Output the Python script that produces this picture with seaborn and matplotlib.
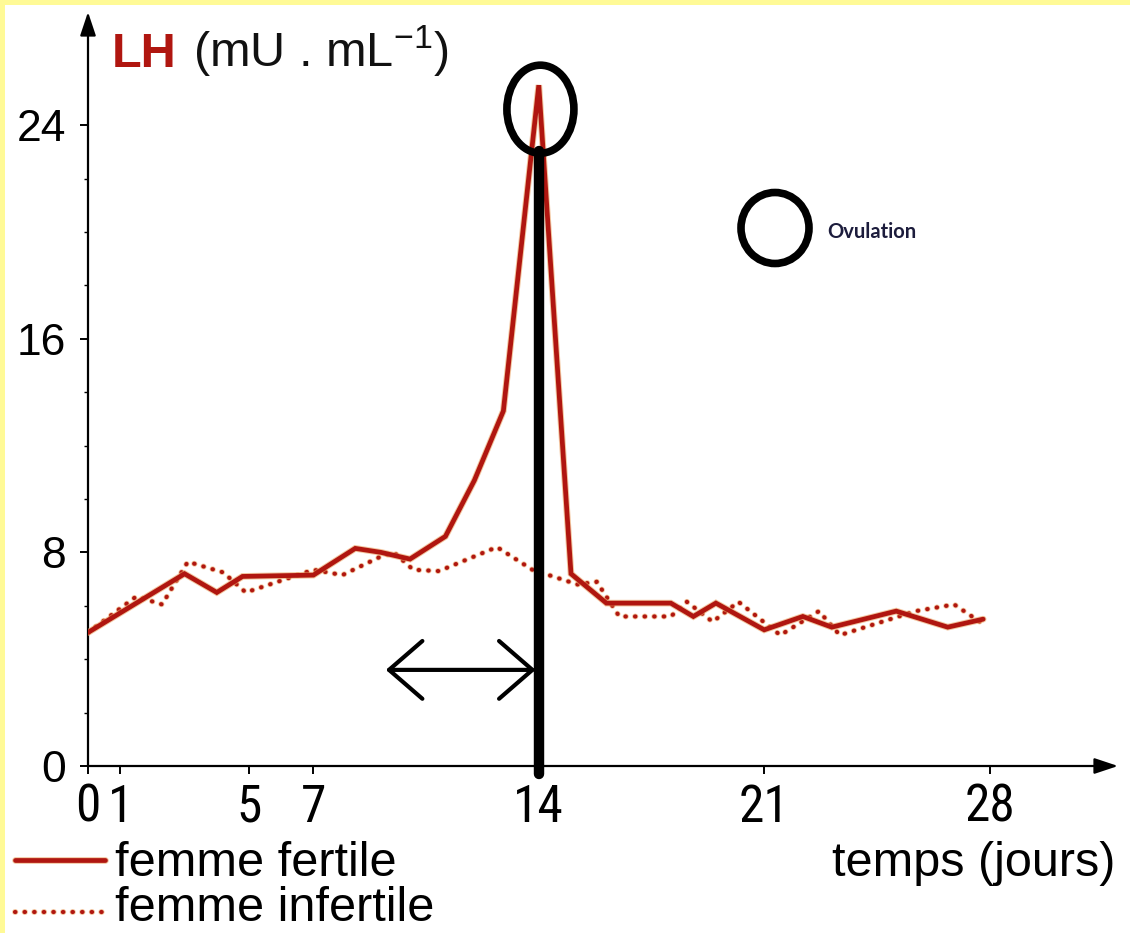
import numpy as np
import pandas as pd
import matplotlib
matplotlib.use('Agg')
import matplotlib.pyplot as plt
import seaborn as sns
from matplotlib import font_manager
from matplotlib.patches import Ellipse, Rectangle
from matplotlib.lines import Line2D
import matplotlib.patheffects as pe

# ---------------- data ----------------
days_fertile = [0, 3.0, 4.0, 4.8, 7.0, 8.3, 9.1, 10.0, 11.1, 12.0, 12.9, 14.0, 15.0,
                16.1, 18.1, 18.8, 19.5, 21.0, 22.2, 23.1, 25.1, 26.7, 27.8]
lh_fertile = [5.0, 7.2, 6.5, 7.1, 7.15, 8.15, 8.0, 7.75, 8.6, 10.7, 13.3, 25.5, 7.2,
              6.1, 6.1, 5.6, 6.1, 5.1, 5.6, 5.2, 5.8, 5.2, 5.5]
days_infertile = [0, 1.5, 2.3, 3.1, 4.2, 4.9, 7.0, 7.9, 9.1, 9.5, 10.1, 10.9, 12.7, 13.8,
                  15.2, 15.8, 16.5, 18.1, 18.6, 19.4, 20.2, 21.5, 22.7, 23.35, 25.7, 26.9, 27.7]
lh_infertile = [5.0, 6.35, 6.05, 7.65, 7.25, 6.5, 7.35, 7.15, 7.85, 8.0, 7.35, 7.3, 8.2, 7.35,
                6.8, 6.9, 5.6, 5.6, 6.15, 5.4, 6.15, 4.9, 5.8, 4.9, 5.8, 6.05, 5.4]
x_ticks = [0, 1, 5, 7, 14, 21, 28]
y_ticks = [0, 8, 16, 24]
series_labels = ['femme fertile', 'femme infertile']
title_hormone = 'LH'
title_unit = '(mU . mL$^{-1}$)'
x_label = 'temps (jours)'
ovulation_label = 'Ovulation'
ovulation_day = 14

# ---------------- style ----------------
sns.set_theme(style='ticks')


def find_narrow():
    for fam in ['Liberation Sans Narrow', 'Roboto Condensed', 'DejaVu Sans Condensed',
                'Open Sans Condensed', 'Noto Sans Condensed', 'Arial Narrow']:
        try:
            font_manager.findfont(font_manager.FontProperties(family=fam),
                                  fallback_to_default=False)
            return font_manager.FontProperties(family=fam)
        except Exception:
            pass
    # try a condensed stretch of an installed family
    for f in font_manager.fontManager.ttflist:
        st = f.stretch
        if isinstance(st, str) and 'condensed' in st and ('Sans' in f.name or 'Roboto' in f.name):
            return font_manager.FontProperties(fname=f.fname)
    return None


NARROW_FP = find_narrow()
plt.rcParams['font.family'] = ['Liberation Sans', 'DejaVu Sans']
plt.rcParams['mathtext.fontset'] = 'custom'
plt.rcParams['mathtext.rm'] = 'Liberation Sans'
plt.rcParams['mathtext.it'] = 'Liberation Sans'

RED = '#b01610'
HALO = '#eaa060'

W, H = 1130, 933
fig = plt.figure(figsize=(W / 100, H / 100), dpi=100)
fig.patch.set_facecolor('white')

# yellow frame (top and left)
fig.patches.append(Rectangle((0, 1 - 5 / H), 1, 5 / H, transform=fig.transFigure,
                             facecolor='#fffa96', edgecolor='none', zorder=0))
fig.patches.append(Rectangle((0, 0), 5 / W, 1, transform=fig.transFigure,
                             facecolor='#fffa96', edgecolor='none', zorder=0))

X0, Y0 = 88, 766
XR, YT = 1118, 12
PX_DAY = 32.2
PX_UNIT = 26.7
ax = fig.add_axes([X0 / W, (H - Y0) / H, (XR - X0) / W, (Y0 - YT) / H])
ax.set_facecolor('none')
ax.set_xlim(0, (XR - X0) / PX_DAY)
ax.set_ylim(0, (Y0 - YT) / PX_UNIT)
for s in ax.spines.values():
    s.set_visible(False)

# ---------------- curves ----------------
df_f = pd.DataFrame({'jour': days_fertile, 'LH': lh_fertile})
df_i = pd.DataFrame({'jour': days_infertile, 'LH': lh_infertile})

sns.lineplot(data=df_i, x='jour', y='LH', ax=ax, color=RED, lw=3.0, estimator=None,
             linestyle=(0, (0.1, 2.2)), dash_capstyle='round', zorder=3,
             path_effects=[pe.Stroke(linewidth=4.2, foreground=HALO, alpha=0.6), pe.Normal()])
sns.lineplot(data=df_f, x='jour', y='LH', ax=ax, color=RED, lw=3.4, estimator=None,
             zorder=4, solid_joinstyle='miter',
             path_effects=[pe.Stroke(linewidth=4.8, foreground=HALO, alpha=0.6), pe.Normal()])

# ---------------- axes with arrows ----------------
ax.annotate('', xy=(0, 1), xytext=(0, 0), xycoords='axes fraction',
            arrowprops=dict(arrowstyle='-|>,head_length=0.9,head_width=0.3', lw=1.6,
                            color='black', mutation_scale=16, shrinkA=0, shrinkB=0),
            annotation_clip=False, zorder=2)
ax.annotate('', xy=(1, 0), xytext=(0, 0), xycoords='axes fraction',
            arrowprops=dict(arrowstyle='-|>,head_length=0.9,head_width=0.3', lw=1.6,
                            color='black', mutation_scale=16, shrinkA=0, shrinkB=0),
            annotation_clip=False, zorder=2)

ax.set_xticks(x_ticks)
ax.set_xticklabels([str(t) for t in x_ticks])
ax.set_yticks(y_ticks)
ax.set_yticklabels([str(t) for t in y_ticks])
ax.set_yticks([v for v in range(2, 26, 2) if v not in y_ticks], minor=True)
xsize = 37 if NARROW_FP is not None else 33
ax.tick_params(axis='x', which='major', bottom=True, direction='out', length=6, width=1.4,
               color='black', pad=6, labelsize=xsize, labelcolor='black')
ax.tick_params(axis='y', which='major', left=True, direction='out', length=6, width=1.4,
               color='black', pad=10, labelsize=32, labelcolor='black')
ax.tick_params(axis='y', which='minor', left=True, direction='out', length=3, width=1.0,
               color='black')
for lbl in ax.get_xticklabels():
    if NARROW_FP is not None:
        lbl.set_fontproperties(NARROW_FP)
        lbl.set_fontsize(xsize)
ax.set_xlabel('')
ax.set_ylabel('')

# ---------------- annotations ----------------
peak_i = int(np.argmax(lh_fertile))
ell_h = 88 / PX_UNIT
ell_cy = lh_fertile[peak_i] - 0.9
ax.add_patch(Ellipse((days_fertile[peak_i] + 0.05, ell_cy), 67 / PX_DAY, ell_h,
                     fill=False, edgecolor='black', lw=5.5, zorder=6, clip_on=False))
ax.plot([ovulation_day, ovulation_day], [-0.3, ell_cy - ell_h / 2 + 0.1], color='black',
        lw=7.5, solid_capstyle='round', zorder=6, clip_on=False)
ax.annotate('', xy=(9.25, 3.6), xytext=(ovulation_day - 0.1, 3.6),
            arrowprops=dict(arrowstyle='<->,head_length=1.5,head_width=1.3', lw=3.0,
                            color='black', mutation_scale=16, shrinkA=0, shrinkB=0),
            zorder=6)

# ovulation key
fig.patches.append(Ellipse((775 / W, 1 - 228 / H), 68 / W, 71 / H, transform=fig.transFigure,
                           fill=False, edgecolor='black', lw=5.5, zorder=5))
fig.text(827 / W, 1 - 232 / H, ovulation_label, fontsize=14.5, fontweight='bold',
         family=['Lato', 'DejaVu Sans'], color='#1c1c3c', ha='left', va='center')

# ---------------- titles / labels ----------------
fig.text(112 / W, 1 - 67 / H, title_hormone, fontsize=35, fontweight='bold', color=RED,
         ha='left', va='baseline')
fig.text(193 / W, 1 - 67 / H, title_unit, fontsize=35, color='#111111',
         ha='left', va='baseline')
fig.text(1115 / W, 1 - 876 / H, x_label, fontsize=35, color='black',
         ha='right', va='baseline')

# legend
fig.lines.append(Line2D([15 / W, 105 / W], [1 - 860 / H, 1 - 860 / H], transform=fig.transFigure,
                        color=RED, lw=3.4,
                        path_effects=[pe.Stroke(linewidth=4.8, foreground=HALO, alpha=0.6), pe.Normal()]))
fig.lines.append(Line2D([15 / W, 105 / W], [1 - 912 / H, 1 - 912 / H], transform=fig.transFigure,
                        color=RED, lw=3.0, linestyle=(0, (0.1, 2.2)), dash_capstyle='round',
                        path_effects=[pe.Stroke(linewidth=4.2, foreground=HALO, alpha=0.6), pe.Normal()]))
fig.text(115 / W, 1 - 876 / H, series_labels[0], fontsize=35, color='black',
         ha='left', va='baseline')
fig.text(115 / W, 1 - 921 / H, series_labels[1], fontsize=35, color='black',
         ha='left', va='baseline')

fig.savefig('out.png', dpi=100, facecolor='white')
